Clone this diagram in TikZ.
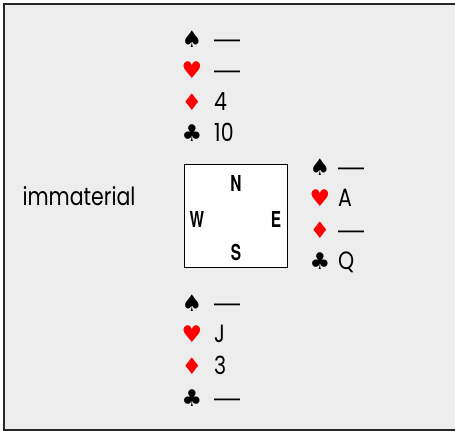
\documentclass[tikz,border=0pt]{standalone}
\usepackage{fontspec}
\setmainfont[FakeStretch=0.82]{Poppins}
\newfontfamily\suitfont{DejaVu Sans}
\newfontfamily\dashfont{Liberation Sans}
\newfontfamily\compassfont[FakeStretch=0.7]{TeX Gyre Heros}
\usepackage{xcolor}
\usepackage{tikz}
\definecolor{suitred}{RGB}{255,0,0}
\definecolor{tablebg}{RGB}{237,237,237}
\definecolor{framecol}{RGB}{40,40,40}
\tikzset{
    suit/.style = {anchor=base, inner sep=0pt, font=\suitfont\fontsize{23}{26}\selectfont},
    suitr/.style = {suit, text=suitred},
    card/.style = {anchor=base west, inner sep=0pt, font=\fontsize{25}{29}\selectfont},
    void/.style = {anchor=base west, inner sep=0pt, font=\dashfont\fontsize{26}{29}\selectfont},
    compass/.style = {anchor=base, inner sep=0pt, font=\compassfont\bfseries\fontsize{22}{26}\selectfont},
}

\begin{document}
\begin{tikzpicture}[x=1pt, y=-1pt]
\useasboundingbox (0,0) rectangle (455,432);
\draw[framecol, line width=1.5pt, fill=tablebg] (4,4) rectangle (462,430);
% north
\node[suit]  at (192,47)  (ns) {♠};
\node[suitr] at (192,78)  (nh) {♥};
\node[suitr] at (192,110) (nd) {♦};
\node[suit]  at (192,141) (nc) {♣};
\node[void] at (214,47)  (nsv) {—};
\node[void] at (214,78)  (nhv) {—};
\node[card] at (214,110) (ndv) {4};
\node[card] at (214,141) (ncv) {10};
% table
\node[draw=black, fill=white, line width=1pt, minimum size=103pt, inner sep=0pt] at (235.5,215.5) (table) {};
\node[compass] at (236,191) (north) {N};
\node[compass] at (197,227) (west) {W};
\node[compass] at (276,227) (east) {E};
\node[compass] at (236,260) (south) {S};
% east
\node[suit]  at (320,175) (es) {♠};
\node[suitr] at (320,206) (eh) {♥};
\node[suitr] at (320,238) (ed) {♦};
\node[suit]  at (320,269) (ec) {♣};
\node[void] at (338,175) (esv) {—};
\node[card] at (338,206) (ehv) {A};
\node[void] at (338,238) (edv) {—};
\node[card] at (338,269) (ecv) {Q};
% south
\node[suit]  at (192,311) (ss) {♠};
\node[suitr] at (192,342) (sh) {♥};
\node[suitr] at (192,374) (sd) {♦};
\node[suit]  at (192,406) (sc) {♣};
\node[void] at (214,311) (ssv) {—};
\node[card] at (214,342) (shv) {J};
\node[card] at (214,374) (sdv) {3};
\node[void] at (214,406) (scv) {—};
% west
\node[card, anchor=base] at (79,205) (wv) {immaterial};
\end{tikzpicture}
\end{document}
